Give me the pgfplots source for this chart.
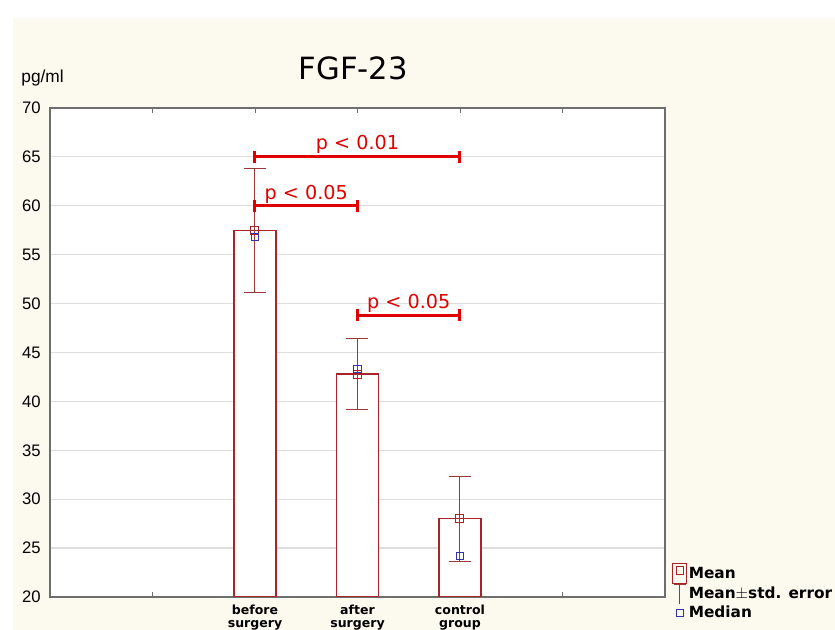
\documentclass[border=0pt]{standalone}
\usepackage{fontspec}
\setmainfont{DejaVu Sans}
\newfontfamily\libsans{Liberation Sans}
\usepackage{pgfplots}
\pgfplotsset{compat=1.18}
\definecolor{cream}{RGB}{252,249,238}
\definecolor{barred}{RGB}{170,35,40}
\definecolor{errc}{RGB}{155,55,55}
\definecolor{medc}{RGB}{50,50,170}
\definecolor{sigred}{RGB}{225,0,0}
\definecolor{gridc}{RGB}{222,222,222}
\definecolor{framec}{RGB}{110,110,110}
\begin{document}
\begin{tikzpicture}
\fill[white] (0,0) rectangle (626.25pt,472.5pt);
\fill[cream] (9.75pt,0) rectangle (626.25pt,459pt);
\begin{axis}[
  at={(37.5pt,24.75pt)}, anchor=south west,
  scale only axis, width=461.25pt, height=366.75pt,
  xmin=0, xmax=6, ymin=20, ymax=70,
  axis background/.style={fill=white},
  axis line style={draw=framec, line width=1pt},
  xtick={1,2,3,4,5},
  xticklabels={,before\\surgery,after\\surgery,control\\group,},
  x tick label style={font=\bfseries\fontsize{9.4}{9.8}\selectfont, align=center, inner sep=0pt, yshift=-5.5pt},
  ytick={20,25,...,70},
  y tick label style={font=\libsans\fontsize{12.5}{14}\selectfont, inner sep=0pt, xshift=-6.75pt},
  /pgf/number format/assume math mode=true,
  ymajorgrids, grid style={draw=gridc, line width=0.9pt},
  tick align=inside, major tick length=3.5pt,
  xtick style={draw=framec, line width=0.6pt},
  ytick style={draw=none},
  title={FGF-23},
  title style={font=\fontsize{23}{26}\selectfont, at={(0.493,1)}, anchor=base, yshift=15pt},
  ylabel={pg/ml},
  ylabel style={rotate=-90, at={(rel axis cs:-0.047,1)}, anchor=base west, yshift=18.75pt, font=\libsans\fontsize{13}{15}\selectfont, inner sep=0pt},
  legend style={at={(1.0114,0.07)}, anchor=north west, draw=none, fill=none, inner sep=0pt,
    font=\bfseries\fontsize{11.5}{13}\selectfont, row sep=0pt, nodes={inner sep=1pt}},
  legend cell align=left,
]
% bars (means)
\addplot[ybar, bar width=0.41, draw=barred, fill=white, line width=0.8pt, forget plot]
  coordinates {(2,57.5) (3,42.8) (4,28.0)};
% mean markers
\addplot[only marks, mark=square, mark size=3pt, mark options={draw=barred, line width=0.75pt},
  legend image code/.code={
    \draw[barred, line width=0.9pt] (0pt,-7.5pt) rectangle (10.5pt,7.5pt);
    \draw[barred, line width=0.75pt] (2.5pt,-0.5pt) rectangle (8pt,5pt);}]
  coordinates {(2,57.5) (3,42.8) (4,28.0)};
\addlegendentry{Mean}
% error bars
\addplot[draw=none, mark=none,
  legend image code/.code={
    \draw[errc, line width=0.75pt] (5.25pt,-7.5pt) -- (5.25pt,7pt);
    \draw[errc, line width=0.75pt] (0.5pt,7pt) -- (10pt,7pt);},
  error bars/.cd, y dir=both, y explicit, error mark=|,
  error bar style={draw=errc, line width=0.75pt, solid},
  error mark options={draw=errc, line width=0.75pt, mark size=8.25pt}]
  coordinates {(2,57.5) +- (0,6.35) (3,42.8) +- (0,3.6) (4,28.0) +- (0,4.35)};
\addlegendentry{Mean$\pm$std. error}
% medians
\addplot[only marks, mark=square, mark size=2.75pt, mark options={draw=medc, line width=0.75pt},
  legend image code/.code={
    \draw[medc, line width=0.75pt] (2.75pt,-2.5pt) rectangle (7.75pt,2.5pt);}]
  coordinates {(2,56.8) (3,43.3) (4,24.2)};
\addlegendentry{Median}
% significance brackets
\addplot[sigred, line width=2.25pt, mark=|, mark size=4.5pt, mark options={solid, line width=2.25pt}, forget plot]
  coordinates {(2,65) (4,65)}
  node[pos=0.5, anchor=base, yshift=5.5pt, font=\fontsize{14.4}{16}\selectfont, text=sigred] {p < 0.01};
\addplot[sigred, line width=2.25pt, mark=|, mark size=4.5pt, mark options={solid, line width=2.25pt}, forget plot]
  coordinates {(2,60) (3,60)}
  node[pos=0.5, anchor=base, yshift=5pt, font=\fontsize{14.4}{16}\selectfont, text=sigred] {p < 0.05};
\addplot[sigred, line width=2.25pt, mark=|, mark size=4.5pt, mark options={solid, line width=2.25pt}, forget plot]
  coordinates {(3,48.8) (4,48.8)}
  node[pos=0.5, anchor=base, yshift=5pt, font=\fontsize{14.4}{16}\selectfont, text=sigred] {p < 0.05};
\end{axis}
\end{tikzpicture}
\end{document}
